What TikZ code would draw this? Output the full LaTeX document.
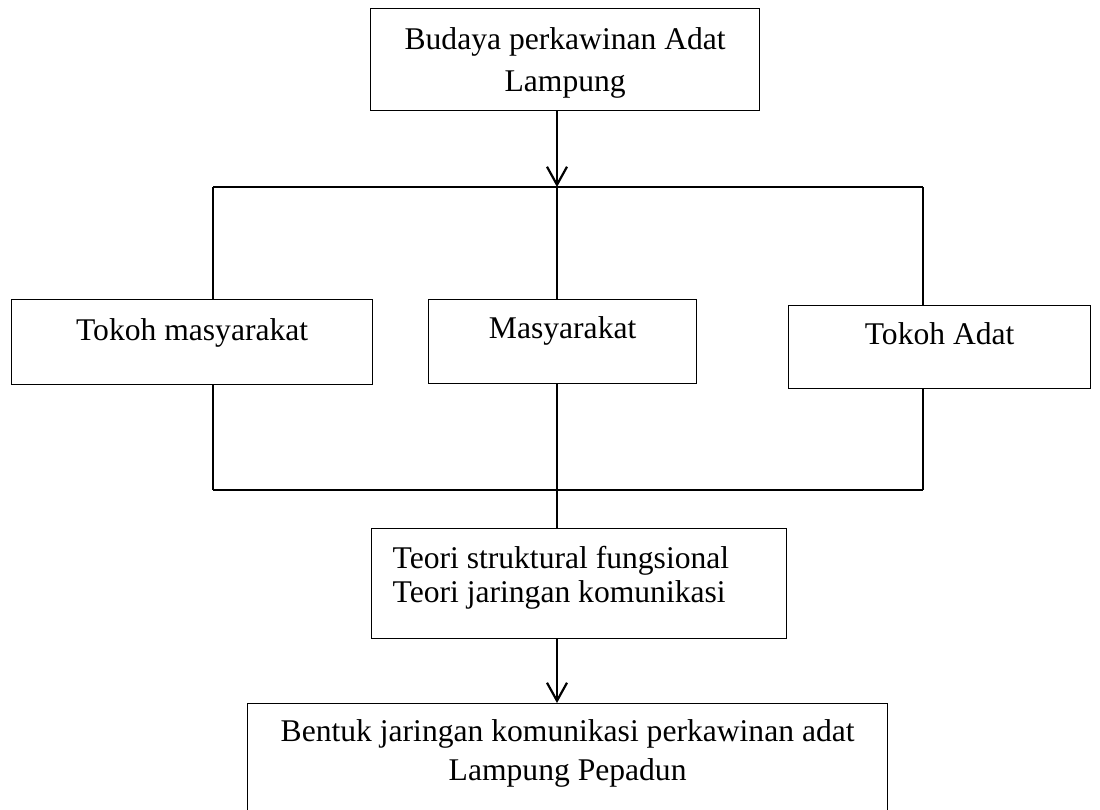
\documentclass[tikz,border=0pt]{standalone}
\usepackage{fontspec}
\setmainfont{Liberation Serif}
\usetikzlibrary{arrows.meta}

\begin{document}
\begin{tikzpicture}[
    x=0.5pt, y=-0.5pt,
    box/.style  = {rectangle, draw=black, line width=0.65pt, inner sep=0pt,
                   anchor=north west, font=\fontsize{15.8}{20}\selectfont},
    link/.style = {line width=0.8pt},
    arr/.style  = {-{Straight Barb[length=9pt, width=10pt, line width=1.1pt]},
                   line width=1.25pt}
]
\useasboundingbox (0,0) rectangle (1100,810);
\clip (0,0) rectangle (1100,810);

% Top box
\node[box, text width=194.5pt, align=flush center,
      text height=20.5pt, text depth=30.5pt,
      font=\fontsize{15.8}{21}\selectfont] (budaya) at (370,8)
      {Budaya perkawinan Adat\\Lampung};

% Middle row
\node[box, minimum width=180.5pt, text height=20.5pt, text depth=22pt]
      (tokohm) at (11,299) {Tokoh masyarakat};
\node[box, minimum width=134pt, text height=19.5pt, text depth=22.5pt]
      (masy) at (428,299) {Masyarakat};
\node[box, minimum width=151pt, text height=19.5pt, text depth=22pt]
      (tokoha) at (788,305) {Tokoh Adat};

% Theory box
\node[box, inner xsep=10.5pt, text width=186.5pt, align=flush left,
      text height=20pt, text depth=35pt,
      font=\fontsize{15.8}{17}\selectfont] (teori) at (371,528)
      {Teori struktural fungsional\\Teori jaringan komunikasi};

% Bottom box
\node[box, text width=320pt, align=flush center,
      text height=19pt, text depth=50pt,
      font=\fontsize{15.8}{19.5}\selectfont] (bentuk) at (247,703)
      {Bentuk jaringan komunikasi perkawinan adat\\Lampung Pepadun};

% Bus points
\coordinate (busTL) at (213,187);
\coordinate (busTM) at (557,187);
\coordinate (busTR) at (923,187);
\coordinate (busBL) at (213,490);
\coordinate (busBR) at (923,490);

% Top -> upper bus
\draw[arr]  (budaya.south -| busTM) -- (busTM);
\draw[link] (busTL) -- (busTR);
\draw[link] (busTL) -- (tokohm.north -| busTL);
\draw[link] (busTM) -- (masy.north -| busTM);
\draw[link] (busTR) -- (tokoha.north -| busTR);

% Row -> lower bus
\draw[link] (tokohm.south -| busBL) -- (busBL);
\draw[link] (tokoha.south -| busBR) -- (busBR);
\draw[link] (busBL) -- (busBR);
\draw[link] (masy.south -| busTM) -- (teori.north -| busTM);

% Theory -> result
\draw[arr]  (teori.south -| busTM) -- (bentuk.north -| busTM);
\end{tikzpicture}
\end{document}
